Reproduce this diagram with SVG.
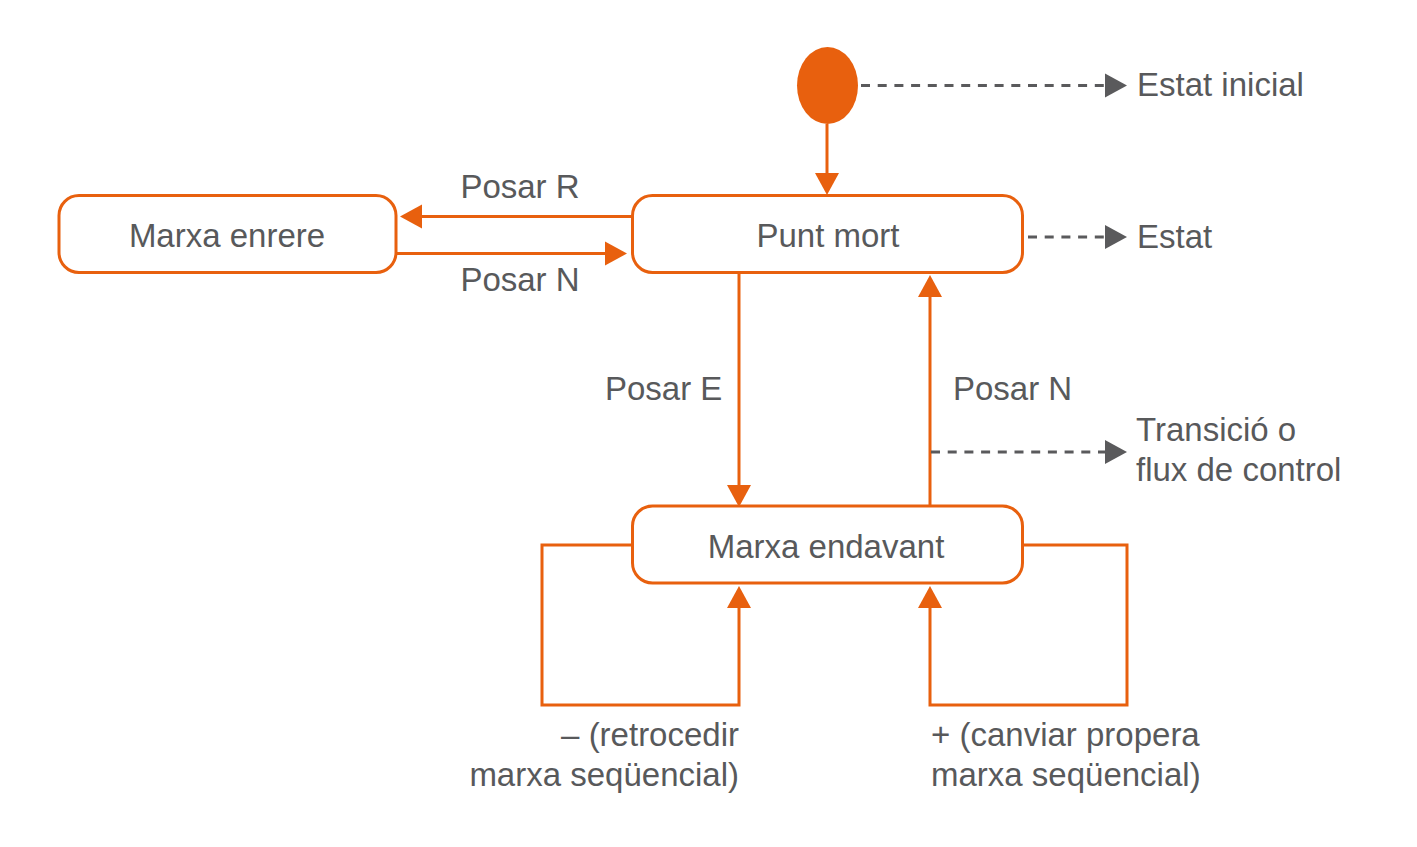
<svg xmlns="http://www.w3.org/2000/svg" width="1417" height="847" viewBox="0 0 1417 847">
<style>
  .node { fill: #ffffff; stroke: #E8600E; stroke-width: 3; }
  .edge { fill: none; stroke: #E8600E; stroke-width: 3; }
  .dash { fill: none; stroke: #5A5A5C; stroke-width: 3; stroke-dasharray: 9 7.7; }
  text { font-family: "Liberation Sans", Arial, Helvetica, sans-serif; font-size: 33px; fill: #58595B; }
  .c { text-anchor: middle; }
  .r { text-anchor: end; }
</style>
<defs>
  <marker id="ah" markerUnits="userSpaceOnUse" markerWidth="23" markerHeight="25" refX="1" refY="12.5" orient="auto" viewBox="0 0 23 25">
    <path d="M0,0.5 L22,12.5 L0,24.5 z" fill="#E8600E"/>
  </marker>
  <marker id="ahg" markerUnits="userSpaceOnUse" markerWidth="23" markerHeight="25" refX="1" refY="12.5" orient="auto" viewBox="0 0 23 25">
    <path d="M0,0.5 L22,12.5 L0,24.5 z" fill="#5A5A5C"/>
  </marker>
</defs>
<rect width="1417" height="847" fill="#ffffff"/>

<g id="connectors">
  <path class="edge" d="M827,124 L827,174" marker-end="url(#ah)"/>
  <path class="edge" d="M632,216.5 L421,216.5" marker-end="url(#ah)"/>
  <path class="edge" d="M396,253.5 L606,253.5" marker-end="url(#ah)"/>
  <path class="edge" d="M739,273 L739,486" marker-end="url(#ah)"/>
  <path class="edge" d="M930,506 L930,296" marker-end="url(#ah)"/>
  <path class="edge" d="M632,545 L542,545 L542,705 L739,705 L739,607" marker-end="url(#ah)"/>
  <path class="edge" d="M1023,545 L1127,545 L1127,705 L930,705 L930,607" marker-end="url(#ah)"/>
  <path class="dash" d="M861,85.5 L1106,85.5" marker-end="url(#ahg)"/>
  <path class="dash" d="M1028,237 L1106,237" marker-end="url(#ahg)"/>
  <path class="dash" d="M931,452 L1106,452" marker-end="url(#ahg)"/>
</g>

<g id="initial">
  <ellipse cx="827.5" cy="85.5" rx="30.5" ry="38.5" fill="#E8600E"/>
</g>

<g id="punt-mort">
  <rect class="node" x="632.5" y="195.5" width="390" height="77" rx="20" ry="20"/>
  <text class="c" x="828" y="247">Punt mort</text>
</g>

<g id="marxa-enrere">
  <rect class="node" x="59" y="195.5" width="337" height="77" rx="20" ry="20"/>
  <text class="c" x="227" y="247">Marxa enrere</text>
</g>

<g id="marxa-endavant">
  <rect class="node" x="632.5" y="506" width="390" height="77" rx="20" ry="20"/>
  <text class="c" x="826" y="558">Marxa endavant</text>
</g>

<g id="labels">
  <text class="c" x="520" y="198">Posar R</text>
  <text class="c" x="520" y="291">Posar N</text>
  <text x="605" y="400">Posar E</text>
  <text x="953" y="400">Posar N</text>
  <text class="r" x="739" y="746">– (retrocedir</text>
  <text class="r" x="739" y="786">marxa seqüencial)</text>
  <text x="931" y="746">+ (canviar propera</text>
  <text x="931" y="786">marxa seqüencial)</text>
</g>

<g id="legend">
  <text x="1137" y="96">Estat inicial</text>
  <text x="1137" y="248">Estat</text>
  <text x="1136" y="441">Transició o</text>
  <text x="1136" y="481">flux de control</text>
</g>
</svg>
